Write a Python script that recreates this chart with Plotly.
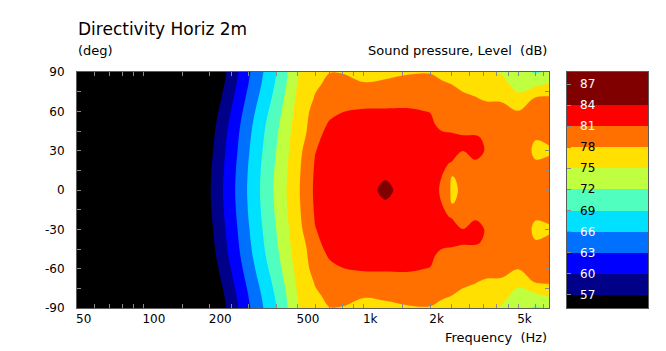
import math
import plotly.graph_objects as go

# ---------------- data ----------------
freqs = [50, 100, 150, 200, 250, 300, 350, 400, 450, 500, 550, 600, 700, 800,
         1000, 1250, 1600, 2000, 2250, 2500, 2800, 3200, 3600, 4200, 5000, 6000, 7000]

angles = [-90, -80, -70, -60, -50, -40, -30, -20, -10, 0,
          10, 20, 30, 40, 50, 60, 70, 80, 90]

# SPL (dB) per off-axis angle, one value per frequency above
spl_0 = [40.0, 45.0, 50.1, 56.8, 62.0, 66.4, 69.8, 72.6, 75.2, 77.5, 79.6, 81.5, 82.5, 83.2,
         83.5, 84.3, 83.4, 82.0, 80.7, 77.6, 78.3, 79.5, 79.8, 80.0, 79.9, 79.5, 79.2]
spl_10 = [40.0, 45.0, 50.0, 56.7, 61.9, 66.3, 69.7, 72.5, 75.1, 77.4, 79.5, 81.4, 82.4, 83.1,
          83.4, 83.9, 83.3, 82.0, 81.0, 77.9, 78.4, 79.6, 79.8, 80.0, 79.9, 79.3, 79.0]
spl_20 = [39.9, 44.8, 49.8, 56.5, 61.7, 66.1, 69.5, 72.3, 74.9, 77.3, 79.2, 81.2, 82.2, 82.9,
          83.2, 83.6, 83.1, 82.0, 81.4, 80.8, 79.5, 80.7, 80.2, 79.9, 79.6, 78.2, 78.4]
spl_30 = [39.7, 44.5, 49.5, 56.2, 61.4, 65.8, 69.2, 72.0, 74.6, 77.1, 78.8, 80.9, 82.0, 82.6,
          82.9, 83.3, 82.8, 82.2, 82.0, 82.0, 81.05, 81.7, 80.8, 79.9, 79.3, 77.6, 77.8]
spl_40 = [39.5, 44.2, 49.2, 55.9, 61.1, 65.5, 68.9, 71.7, 74.3, 76.8, 78.2, 80.6, 81.6, 82.2,
          82.6, 82.9, 82.4, 82.1, 81.8, 81.7, 81.3, 81.3, 80.6, 79.6, 79.0, 78.1, 78.4]
spl_50 = [39.2, 43.8, 48.8, 55.5, 60.7, 65.1, 68.5, 71.3, 73.9, 76.5, 77.8, 80.2, 81.2, 81.8,
          82.1, 82.4, 81.9, 81.6, 80.2, 79.8, 79.6, 79.6, 79.5, 79.3, 78.6, 80.2, 79.8]
spl_60 = [38.8, 43.3, 48.3, 54.9, 60.1, 64.5, 67.9, 70.7, 73.4, 76.0, 77.4, 79.3, 80.6, 80.95,
          81.3, 81.3, 81.3, 80.9, 79.8, 79.4, 79.2, 79.0, 78.9, 78.7, 78.1, 80.4, 79.9]
spl_70 = [38.3, 42.7, 47.7, 54.2, 59.4, 63.8, 67.2, 70.0, 72.9, 75.6, 77.0, 78.2, 79.6, 79.8,
          79.8, 79.9, 80.0, 79.8, 79.0, 78.6, 78.4, 78.1, 77.7, 77.7, 75.6, 78.3, 78.4]
spl_80 = [37.8, 42.1, 47.1, 53.5, 58.7, 63.1, 66.5, 69.4, 72.3, 75.1, 76.7, 77.6, 78.6, 78.7,
          78.3, 78.5, 78.8, 78.6, 78.3, 78.05, 77.6, 77.3, 76.4, 75.8, 74.2, 74.6, 75.5]
spl_90 = [37.4, 41.6, 46.6, 53.0, 58.2, 62.6, 66.0, 68.9, 71.9, 74.7, 76.5, 77.3, 77.95, 77.9,
          77.0, 77.4, 77.8, 77.9, 77.5, 77.3, 77.0, 76.5, 75.3, 74.8, 73.5, 71.6, 72.5]

# the measurement is symmetric: rows listed from -90 to +90 deg
spl = [spl_90, spl_80, spl_70, spl_60, spl_50, spl_40, spl_30, spl_20, spl_10, spl_0,
       spl_10, spl_20, spl_30, spl_40, spl_50, spl_60, spl_70, spl_80, spl_90]

levels = [57, 60, 63, 66, 69, 72, 75, 78, 81, 84, 87]
level_step = 3
cb_range = [55.1, 88.75]

band_colors = ["#000000", "#000088", "#0000FF", "#0070FF", "#00E0FF", "#50FFBF",
               "#BFFF40", "#FFE000", "#FF7000", "#FF0000", "#800000"]
label_colors = ["white", "white", "white", "white", "black", "black", "black",
                "black", "white", "white", "white"]

x_tickvals = [50, 60, 70, 80, 90, 100, 150, 200, 250, 300, 400, 500, 600, 700, 800, 900,
              1000, 1500, 2000, 2500, 3000, 3500, 4000, 4500, 5000, 6000, 6500]
x_ticktext = ["50", "", "", "", "", "100", "", "200", "", "", "", "500", "", "", "", "",
              "1k", "", "2k", "", "", "", "", "", "5k", "", ""]
y_tickvals = [-90, -75, -60, -45, -30, -15, 0, 15, 30, 45, 60, 75, 90]
y_ticktext = ["-90", "", "-60", "", "-30", "", "0", "", "30", "", "60", "", "90"]

# ---------------- figure ----------------
colorscale = [[i / (len(band_colors) - 1), c] for i, c in enumerate(band_colors)]
FONT = "DejaVu Sans"
AX = "#5c5c5c"
TK = "#8a8a8a"

fig = go.Figure()
fig.add_trace(go.Contour(
    x=freqs, y=angles, z=spl,
    autocontour=False,
    contours=dict(start=levels[0], end=levels[-2], size=level_step, coloring="fill",
                  showlines=False),
    line=dict(width=0),
    colorscale=colorscale, showscale=False, hoverinfo="skip",
    xaxis="x", yaxis="y",
))

# colour key drawn as a one-column heatmap on its own axes
band_edges = [cb_range[0]] + levels[:-1] + [cb_range[1]]
fig.add_trace(go.Heatmap(
    x=[0, 1], y=band_edges, z=[[i] for i in range(len(band_colors))],
    zmin=0, zmax=len(band_colors) - 1, colorscale=colorscale, showscale=False,
    hoverinfo="skip", xaxis="x2", yaxis="y2",
))

W, H = 666, 351
L, R, T, B = 77, 18, 72, 43
pw = W - L - R
ph = H - T - B
main_right = 549
cb_left, cb_right = 567, 648


def px_x(x):
    return (x - L) / pw


def px_y(y):
    return (H - B - y) / ph


annotations = [
    dict(text="Directivity Horiz 2m", x=px_x(76), y=px_y(29), xref="paper", yref="paper",
         xanchor="left", yanchor="middle", showarrow=False, font=dict(size=17)),
    dict(text="(deg)", x=px_x(76), y=px_y(50.5), xref="paper", yref="paper",
         xanchor="left", yanchor="middle", showarrow=False, font=dict(size=13)),
    dict(text="Sound pressure, Level\u00a0 (dB)", x=px_x(549), y=px_y(50.5), xref="paper",
         yref="paper", xanchor="right", yanchor="middle", showarrow=False, font=dict(size=13)),
    dict(text="Frequency\u00a0 (Hz)", x=px_x(549), y=px_y(337.5), xref="paper", yref="paper",
         xanchor="right", yanchor="middle", showarrow=False, font=dict(size=13)),
]
for lv, col in zip(levels, label_colors):
    annotations.append(dict(text=str(lv), x=0.13, y=lv, xref="x2", yref="y2",
                            xanchor="left", yanchor="middle", showarrow=False,
                            font=dict(size=12, color=col)))

fig.update_layout(
    width=W, height=H, margin=dict(l=L, r=R, t=T, b=B, pad=0),
    paper_bgcolor="white", plot_bgcolor="black", showlegend=False,
    font=dict(family=FONT, size=12, color="black"),
    xaxis=dict(type="log", range=[math.log10(50), math.log10(6900)],
               domain=[0, px_x(main_right)], anchor="y",
               tickmode="array", tickvals=x_tickvals, ticktext=x_ticktext,
               ticks="inside", ticklen=4, tickwidth=1, tickcolor=TK,
               ticklabelposition="outside right", ticklabelshift=-2,
               showline=True, linecolor=AX, linewidth=1, mirror="ticks",
               showgrid=False, zeroline=False, tickfont=dict(size=12)),
    yaxis=dict(range=[-90, 90], domain=[0, 1], anchor="x",
               tickmode="array", tickvals=y_tickvals, ticktext=y_ticktext,
               ticks="inside", ticklen=4, tickwidth=1, tickcolor=TK,
               ticklabelstandoff=9,
               showline=True, linecolor=AX, linewidth=1, mirror="ticks",
               showgrid=False, zeroline=False, tickfont=dict(size=12)),
    xaxis2=dict(domain=[px_x(cb_left), 1], range=[0, 1], anchor="y2",
                showticklabels=False, ticks="", showgrid=False, zeroline=False,
                showline=True, linecolor=AX, linewidth=1, mirror=True),
    yaxis2=dict(domain=[0, 1], range=cb_range, anchor="x2", side="left",
                tickmode="array", tickvals=levels, showticklabels=False,
                ticks="inside", ticklen=4, tickcolor=TK,
                showgrid=False, zeroline=False,
                showline=True, linecolor=AX, linewidth=1, mirror=True),
    annotations=annotations,
)

fig.write_html("out.html")
